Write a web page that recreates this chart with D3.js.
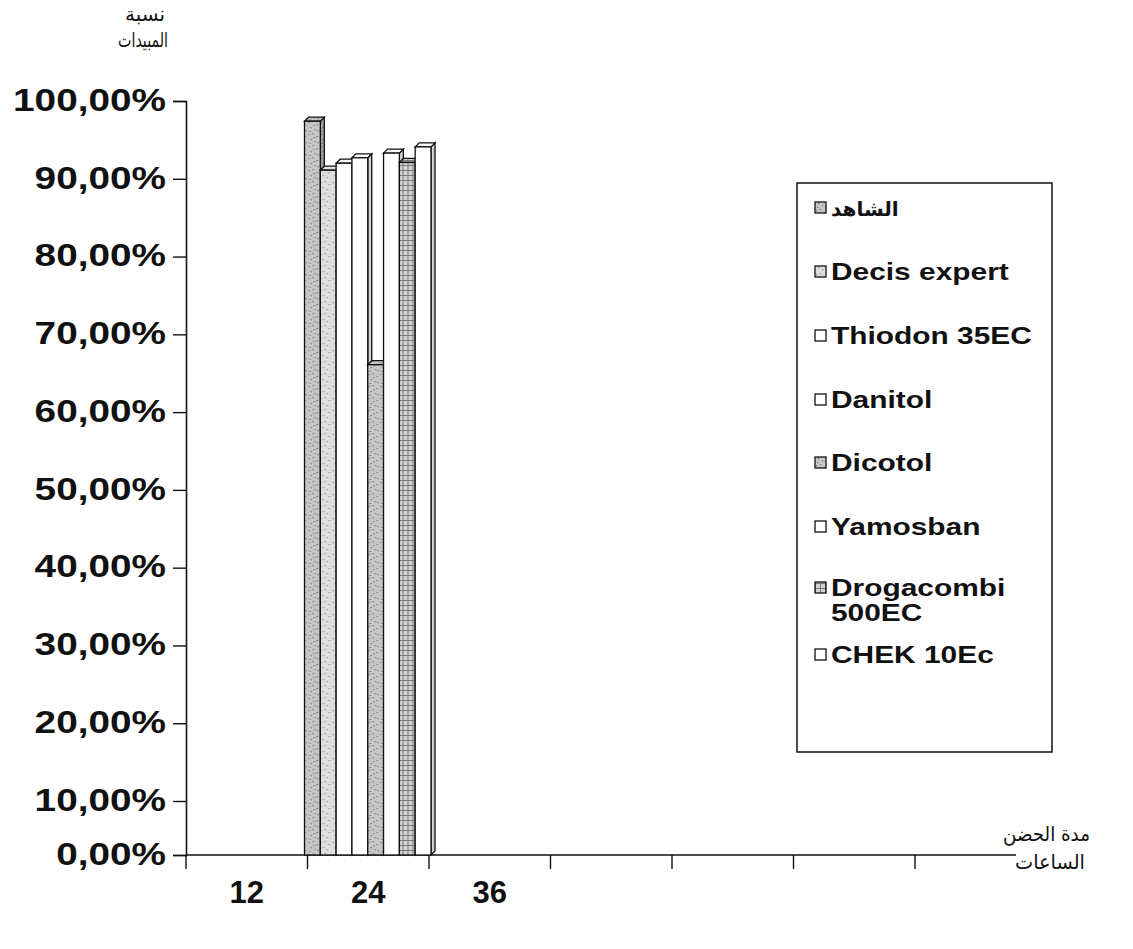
<!DOCTYPE html>
<html>
<head>
<meta charset="utf-8">
<script src="https://cdn.jsdelivr.net/npm/d3@7"></script>
<style>
  body { margin: 0; background: #fff; }
  .lbl { font-family: "Liberation Sans", Arial, sans-serif; font-weight: bold; fill: #111; }
  .ar { font-family: "DejaVu Sans", "Noto Sans", sans-serif; fill: #111; }
</style>
</head>
<body>
<svg id="chart"></svg>
<script>
const width = 1133, height = 949;

// data
const periodLabels = ["12", "24", "36", "", "", "", ""];
const barPeriod = 1; // bars only drawn for the "24" period
const seriesNames = ["الشاهد", "Decis expert", "Thiodon 35EC", "Danitol", "Dicotol", "Yamosban", "Drogacombi 500EC", "CHEK 10Ec"];
const seriesFill = ["url(#speckDark)", "url(#speckLight)", "#fff", "#fff", "url(#speckDark)", "#fff", "url(#checker)", "#fff"];
const values24 = [0.974, 0.911, 0.92, 0.927, 0.661, 0.933, 0.921, 0.941];
const yTicks = [0, 0.1, 0.2, 0.3, 0.4, 0.5, 0.6, 0.7, 0.8, 0.9, 1.0];

const x0 = 186, yBase = 855, yTop = 101, bandW = 121.5;
const depth = 4;

const svg = d3.select('#chart')
    .attr('width', width)
    .attr('height', height);

const x = d3.scaleBand()
    .domain(d3.range(periodLabels.length))
    .range([x0, x0 + bandW * periodLabels.length])
    .padding(0);
const x1 = d3.scaleBand()
    .domain(d3.range(seriesNames.length))
    .range([-3, x.bandwidth() + 2])
    .padding(0);
// the scan has the first 10% step squeezed, so the scale is kept piecewise
const y = d3.scaleLinear()
    .domain([0, 0.1, 1])
    .range([yBase, 801, yTop]);

// patterns
const defs = svg.append('defs');
function speck(id, base, dot, n) {
    const p = defs.append('pattern').attr('id', id)
        .attr('patternUnits', 'userSpaceOnUse').attr('width', 12).attr('height', 12);
    p.append('rect').attr('width', 12).attr('height', 12).attr('fill', base);
    const pts = [[1,2],[5,1],[9,4],[3,7],[7,9],[10,10],[2,11],[6,5]].slice(0, n);
    pts.forEach(d => p.append('rect').attr('x', d[0]).attr('y', d[1]).attr('width', 1.2).attr('height', 1.2).attr('fill', dot));
}
speck('speckDark', '#c6c6c6', '#707070', 8);
speck('speckLight', '#dedede', '#8a8a8a', 5);
const ck = defs.append('pattern').attr('id', 'checker')
    .attr('patternUnits', 'userSpaceOnUse').attr('width', 5).attr('height', 5);
ck.append('rect').attr('width', 5).attr('height', 5).attr('fill', '#d2d2d2');
ck.append('path').attr('d', 'M0,0.5H5M0.5,0V5').attr('stroke', '#7a7a7a').attr('stroke-width', 1);

// y axis
const sy = 1.25;
const fmt = d3.formatLocale({decimal: ',', thousands: '.', grouping: [3], currency: ['', '']}).format('.2%');
const yAxis = svg.append('g')
    .attr('transform', `translate(${x0},0)`)
    .call(d3.axisLeft(y).tickValues(yTicks).tickFormat(fmt).tickSize(13).tickPadding(6));
yAxis.select('.domain').attr('stroke', '#111').attr('stroke-width', 1.6);
yAxis.selectAll('.tick line').attr('stroke', '#111').attr('stroke-width', 1.4);
yAxis.selectAll('.tick text')
    .attr('class', 'lbl')
    .attr('font-size', 31)
    .attr('x', -20 / sy)
    .attr('dy', '0.3em')
    .attr('transform', `scale(${sy},1)`);

// x axis: ticks at band starts, line stops before the unit label
const xAxis = svg.append('g');
xAxis.append('line')
    .attr('x1', x0).attr('x2', 1016)
    .attr('y1', yBase).attr('y2', yBase)
    .attr('stroke', '#111').attr('stroke-width', 1.6);
xAxis.selectAll('.xt')
    .data(x.domain())
    .join('line')
    .attr('x1', d => x(d)).attr('x2', d => x(d))
    .attr('y1', yBase).attr('y2', yBase + 14)
    .attr('stroke', '#111').attr('stroke-width', 1.4);
xAxis.selectAll('.xl')
    .data(x.domain())
    .join('text')
    .attr('class', 'lbl')
    .attr('font-size', 31)
    .attr('text-anchor', 'middle')
    .attr('x', d => x(d) + x.bandwidth() / 2)
    .attr('y', yBase + 48)
    .text(d => periodLabels[d]);

// 3D bars
const bars = svg.append('g')
    .attr('transform', `translate(${x(barPeriod)},0)`)
    .selectAll('g')
    .data(values24.map((v, i) => ({v, i})))
    .join('g');
bars.each(function(d) {
    const g = d3.select(this);
    const bx = x1(d.i), bw = x1.bandwidth(), by = y(d.v);
    const side = `M${bx + bw},${by}L${bx + bw + depth},${by - depth}L${bx + bw + depth},${yBase - depth}L${bx + bw},${yBase}Z`;
    g.append('path').attr('d', side)
        .attr('fill', seriesFill[d.i]).attr('stroke', '#111').attr('stroke-width', 1.3);
    g.append('path').attr('d', side)
        .attr('fill', '#000').attr('opacity', 0.18);
    g.append('path')
        .attr('d', `M${bx},${by}L${bx + depth},${by - depth}L${bx + bw + depth},${by - depth}L${bx + bw},${by}Z`)
        .attr('fill', seriesFill[d.i]).attr('stroke', '#111').attr('stroke-width', 1.3);
    g.append('rect')
        .attr('x', bx).attr('y', by)
        .attr('width', bw).attr('height', yBase - by)
        .attr('fill', seriesFill[d.i]).attr('stroke', '#111').attr('stroke-width', 1.3);
});

// axis titles (Arabic)
function arTitle(txt, xr, yb, len) {
    svg.append('text').attr('class', 'ar').attr('font-size', 20)
        .attr('x', xr - len).attr('y', yb)
        .attr('textLength', len).attr('lengthAdjust', 'spacingAndGlyphs')
        .text(txt);
}
arTitle('نسبة', 165, 21, 40);
arTitle('المبيدات', 168, 47, 50);
arTitle('مدة الحضن', 1090, 841, 87);
arTitle('الساعات', 1085, 869, 70);

// legend
const legX = 797, legY = 183, legW = 255, legH = 569;
const legRowY = [208, 272, 336, 400, 463, 527, 588, 655];
const sl = 1.3;
const legend = svg.append('g');
legend.append('rect')
    .attr('x', legX).attr('y', legY).attr('width', legW).attr('height', legH)
    .attr('fill', '#fff').attr('stroke', '#111').attr('stroke-width', 1.5);
const items = legend.selectAll('.item')
    .data(seriesNames)
    .join('g')
    .attr('transform', (d, i) => `translate(${legX + 18},${legRowY[i]})`);
items.append('rect')
    .attr('x', 0).attr('y', -6).attr('width', 11).attr('height', 11)
    .attr('fill', (d, i) => seriesFill[i]).attr('stroke', '#111').attr('stroke-width', 1.3);
items.each(function(d, i) {
    const g = d3.select(this).append('g').attr('transform', `translate(16,0) scale(${i === 0 ? 1 : sl},1)`);
    const words = d === 'Drogacombi 500EC' ? ['Drogacombi', '500EC'] : [d];
    g.append('text')
        .attr('class', i === 0 ? 'ar' : 'lbl')
        .attr('font-size', i === 0 ? 20 : 23)
        .attr('font-weight', 'bold')
        .attr('y', 8)
        .selectAll('tspan')
        .data(words)
        .join('tspan')
        .attr('x', 0)
        .attr('dy', (w, k) => k === 0 ? 0 : 25)
        .text(w => w);
});
</script>
</body>
</html>
